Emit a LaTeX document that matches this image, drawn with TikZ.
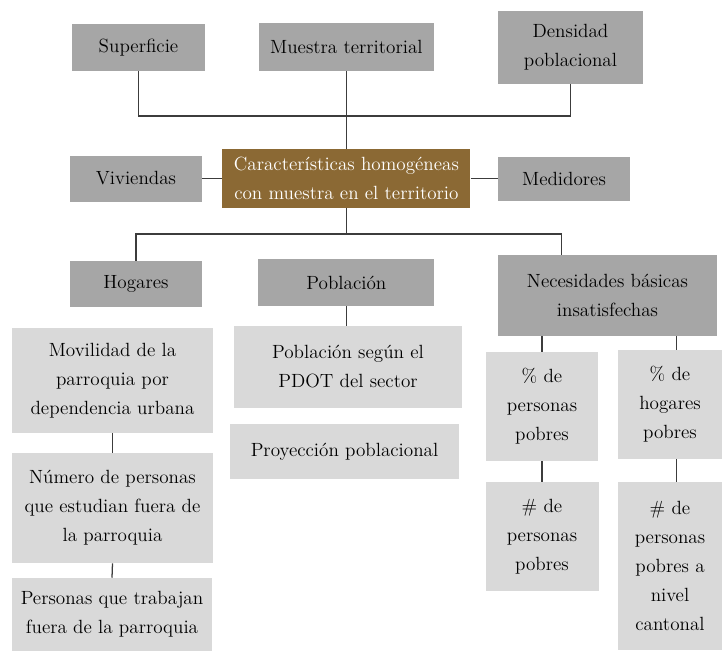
\documentclass[tikz,border=0pt]{standalone}
\usepackage{fontspec}
\definecolor{cinzaesc}{RGB}{166,166,166}
\definecolor{cinzacla}{RGB}{217,217,217}
\definecolor{marrom}{RGB}{139,105,52}
\definecolor{linha}{RGB}{60,60,60}
\tikzset{
	caixa/.style={fill=cinzaesc, draw=none, align=center, inner sep=0pt,
		font=\rmfamily\fontsize{13.6}{20.6}\selectfont},
	caixaclara/.style={caixa, fill=cinzacla},
	caixacentral/.style={caixa, fill=marrom, text=white},
	ligacao/.style={draw=linha, line width=0.9pt}
}
\begin{document}
\begin{tikzpicture}
	
		\useasboundingbox (0., 0.) rectangle (18.05, -16.3);
		
		% Nivel superior
		
		\draw node[caixa, minimum width=3.325cm, minimum height=1.175cm] (no1) at (3.4625, -1.1875) {Superficie} ;
		
		\draw node[caixa, minimum width=4.375cm, minimum height=1.2cm] (no2) at (8.66, -1.175) {Muestra territorial} ;
		
		\draw node[caixa, minimum width=3.625cm, minimum height=1.825cm] (no3) at (14.2625, -1.1875) {Densidad\\poblacional} ;
		
		% Nodo central
		
		\draw node[caixacentral, minimum width=6.2cm, minimum height=1.475cm] (no4) at (8.66, -4.4625) {Características homogéneas\\con muestra en el territorio} ;
		
		\draw node[caixa, minimum width=3.3cm, minimum height=1.15cm] (no5) at (3.4, -4.4625) {Viviendas} ;
		
		\draw node[caixa, minimum width=3.3cm, minimum height=1.1cm] (no6) at (14.1, -4.4625) {Medidores} ;
		
		% Nivel intermedio
		
		\draw node[caixa, minimum width=3.3cm, minimum height=1.15cm] (no7) at (3.4, -7.1) {Hogares} ;
		
		\draw node[caixa, minimum width=4.4cm, minimum height=1.175cm] (no8) at (8.66, -7.0625) {Población} ;
		
		\draw node[caixa, minimum width=5.475cm, minimum height=2.025cm] (no9) at (15.1875, -7.3875) {Necesidades básicas\\insatisfechas} ;
		
		% Nivel inferior
		
		\draw node[caixaclara, minimum width=5.025cm, minimum height=2.625cm] (no10) at (2.8125, -9.5125) {Movilidad de la\\parroquia por\\dependencia urbana} ;
		
		\draw node[caixaclara, minimum width=5.025cm, minimum height=2.75cm] (no11) at (2.8125, -12.7) {Número de personas\\que estudian fuera de\\la parroquia} ;
		
		\draw node[caixaclara, minimum width=5.0cm, minimum height=1.825cm] (no12) at (2.8, -15.3625) {Personas que trabajan\\fuera de la parroquia} ;
		
		\draw node[caixaclara, minimum width=5.7cm, minimum height=2.05cm] (no13) at (8.7, -9.175) {Población según el\\PDOT del sector} ;
		
		\draw node[caixaclara, minimum width=5.725cm, minimum height=1.375cm] (no14) at (8.6125, -11.2875) {Proyección poblacional} ;
		
		\draw node[caixaclara, minimum width=2.8cm, minimum height=2.725cm] (no15) at (13.55, -10.1625) {\% de\\personas\\pobres} ;
		
		\draw node[caixaclara, minimum width=2.6cm, minimum height=2.725cm] (no16) at (16.75, -10.1125) {\% de\\hogares\\pobres} ;
		
		\draw node[caixaclara, minimum width=2.825cm, minimum height=2.725cm] (no17) at (13.55, -13.4125) {\# de\\personas\\pobres} ;
		
		\draw node[caixaclara, minimum width=2.6cm, minimum height=4.2cm] (no18) at (16.75, -14.15) {\# de\\personas\\pobres a\\nivel\\cantonal} ;
		
		% Ligacoes
		
		\coordinate (j1) at (8.66, -2.9);
		
		\coordinate (j2) at (8.66, -5.85);
		
		\coordinate (j3) at (14.03, -6.375);
		
		\draw[ligacao] (no1.south) |- (j1) -| (no3.south);
		
		\draw[ligacao] (no2.south) -- (no4.north);
		
		\draw[ligacao] (no5.east) -- (no4.west);
		
		\draw[ligacao] (no4.east) -- (no6.west);
		
		\draw[ligacao] (no4.south) -- (j2);
		
		\draw[ligacao] (no7.north) |- (j2) -| (j3);
		
		\draw[ligacao] (no8.south) -- (no8.south |- no13.north);
		
		\draw[ligacao] (no10.south) -- (no11.north);
		
		\draw[ligacao] (no11.south) -- (no12.north);
		
		\draw[ligacao] (no15.north) -- (no15.north |- no9.south);
		
		\draw[ligacao] ([xshift=0.17cm]no16.north) -- ([xshift=0.17cm]no16.north |- no9.south);
		
		\draw[ligacao] (no15.south) -- (no17.north);
		
		\draw[ligacao] ([xshift=0.17cm]no16.south) -- ([xshift=0.17cm]no18.north);
		
	\end{tikzpicture}
\end{document}
